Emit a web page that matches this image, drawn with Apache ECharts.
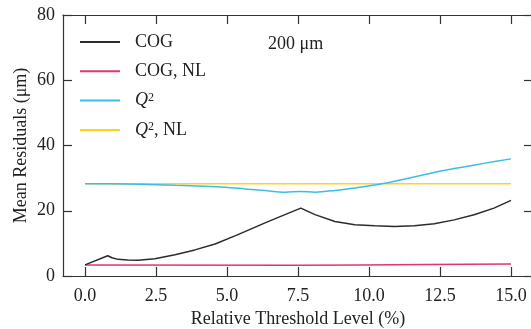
<!DOCTYPE html>
<html>
<head>
<meta charset="utf-8">
<script src="https://cdn.jsdelivr.net/npm/echarts@6/dist/echarts.min.js"></script>
<style>
  html, body { margin: 0; padding: 0; background: #fff; }
  #chart { width: 531px; height: 329px; }
</style>
</head>
<body>
<div id="chart"></div>
<script>
// Mean residuals vs relative threshold level, 200 µm pitch
const xTicks = [0, 2.5, 5, 7.5, 10, 12.5, 15];

const cogX = [0, 0.8, 0.95, 1.16, 1.5, 1.87, 2.46, 3.17, 3.87, 4.58, 5.28, 5.63, 6.34, 7.04, 7.6, 8.1, 8.8, 9.5, 10.2, 10.9, 11.6, 12.3, 13.0, 13.7, 14.4, 15.0];
const cogY = [3.4, 6.2, 5.6, 5.1, 4.9, 4.8, 5.3, 6.5, 8.0, 9.8, 12.3, 13.6, 16.3, 18.8, 20.8, 18.8, 16.7, 15.7, 15.4, 15.2, 15.4, 16.0, 17.2, 18.8, 20.8, 23.2];

const cogNlX = [0, 7.5, 12, 15];
const cogNlY = [3.4, 3.3, 3.5, 3.7];

const q2X = [0, 1.4, 2.5, 3.2, 4.2, 4.93, 5.63, 6.34, 7.04, 7.6, 8.1, 8.8, 9.5, 10.2, 10.56, 11.27, 11.97, 12.68, 13.38, 14.08, 15.0];
const q2Y = [28.3, 28.2, 28.0, 27.8, 27.5, 27.2, 26.7, 26.2, 25.7, 25.9, 25.7, 26.2, 27.0, 27.9, 28.4, 29.7, 31.1, 32.4, 33.5, 34.6, 35.9];

const q2NlX = [0, 15];
const q2NlY = [28.3, 28.3];

const zip = (xs, ys) => xs.map((x, i) => [x, ys[i]]);

const FONT = '"Liberation Serif", "DejaVu Serif", serif';
const AXIS = '#333';
const TEXT = '#222';
const FS = 18;

const legendLabels = {
  'COG': 'COG',
  'COG, NL': 'COG, NL',
  'Q2': '{q|Q}{s|2}',
  'Q2, NL': '{q|Q}{s|2}, NL'
};

const chart = echarts.init(document.getElementById('chart'), null, { renderer: 'canvas' });

const xBase = {
  type: 'value', min: -0.775, max: 15.775,
  splitLine: { show: false },
  axisLine: { show: true, onZero: false, lineStyle: { color: AXIS, width: 1.2 } },
  axisTick: { show: true, inside: true, length: 9, customValues: xTicks, lineStyle: { color: AXIS, width: 1.2 } }
};
const yBase = {
  type: 'value', min: 0, max: 80, interval: 20,
  splitLine: { show: false },
  axisLine: { show: true, onZero: false, lineStyle: { color: AXIS, width: 1.2 } },
  axisTick: { show: true, inside: true, length: 9, lineStyle: { color: AXIS, width: 1.2 } }
};

chart.setOption({
  animation: false,
  backgroundColor: '#fff',
  textStyle: { fontFamily: FONT },
  grid: { left: 63, right: -2, top: 15, bottom: 53, containLabel: false, outerBoundsMode: 'none' },
  title: {
    text: '200 μm', left: 268, top: 35, padding: 0,
    textStyle: { fontFamily: FONT, fontSize: FS, fontWeight: 'normal', color: TEXT }
  },
  legend: {
    orient: 'vertical', left: 80, top: 33, padding: 0,
    icon: 'rect', itemWidth: 40, itemHeight: 2, itemGap: 11.3,
    data: ['COG', 'COG, NL', 'Q2', 'Q2, NL'],
    formatter: name => legendLabels[name],
    textStyle: {
      fontFamily: FONT, fontSize: FS, color: TEXT, lineHeight: 18, padding: [0, 0, 0, 10],
      rich: {
        q: { fontFamily: FONT, fontSize: FS, fontStyle: 'italic', color: TEXT },
        s: { fontFamily: FONT, fontSize: 12, color: TEXT, verticalAlign: 'top', lineHeight: 16 }
      }
    }
  },
  xAxis: [
    Object.assign({}, xBase, {
      position: 'bottom',
      name: 'Relative Threshold Level (%)', nameLocation: 'middle', nameGap: 31,
      nameTextStyle: { fontFamily: FONT, fontSize: FS, color: TEXT },
      axisLabel: { show: true, customValues: xTicks, margin: 11, fontFamily: FONT, fontSize: FS, color: TEXT,
        formatter: v => v.toFixed(1) }
    }),
    Object.assign({}, xBase, { position: 'top', axisLabel: { show: false } })
  ],
  yAxis: [
    Object.assign({}, yBase, {
      position: 'left',
      name: 'Mean Residuals (μm)', nameLocation: 'middle', nameGap: 33, nameMoveOverlap: false,
      nameTextStyle: { fontFamily: FONT, fontSize: FS, color: TEXT },
      axisLabel: { show: true, margin: 8, fontFamily: FONT, fontSize: FS, color: TEXT }
    }),
    Object.assign({}, yBase, { position: 'right', axisLabel: { show: false } })
  ],
  series: [
    { name: 'COG', type: 'line', data: zip(cogX, cogY), showSymbol: false,
      lineStyle: { color: '#2b2b2b', width: 1.5 }, itemStyle: { color: '#2b2b2b' }, z: 4 },
    { name: 'COG, NL', type: 'line', data: zip(cogNlX, cogNlY), showSymbol: false, smooth: true,
      lineStyle: { color: '#e5336f', width: 1.5 }, itemStyle: { color: '#e5336f' }, z: 3 },
    { name: 'Q2', type: 'line', data: zip(q2X, q2Y), showSymbol: false, smooth: 0.3,
      lineStyle: { color: '#3bbde6', width: 1.5 }, itemStyle: { color: '#3bbde6' }, z: 3 },
    { name: 'Q2, NL', type: 'line', data: zip(q2NlX, q2NlY), showSymbol: false,
      lineStyle: { color: '#ffd21e', width: 1.5 }, itemStyle: { color: '#ffd21e' }, z: 2 }
  ]
});
</script>
</body>
</html>
